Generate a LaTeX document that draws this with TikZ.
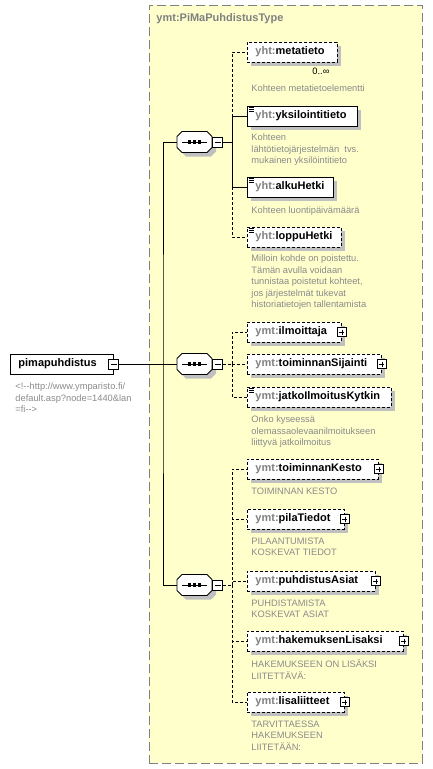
\documentclass[tikz,border=0pt]{standalone}
\usepackage{fontspec}
\setmainfont{Liberation Sans}
\usepackage{tikz}
\usetikzlibrary{shadows,positioning}

\definecolor{typefill}{HTML}{FFFFCC}
\definecolor{typeline}{HTML}{808080}
\definecolor{pfx}{HTML}{808080}
\definecolor{desc}{HTML}{8A8A8A}
\definecolor{shadowgray}{HTML}{C0C0C0}

\newcommand{\ns}[1]{{\color{pfx}#1:}}

\tikzset{
  elem/.style={draw, fill=white, anchor=west, minimum height=20pt, inner xsep=8pt, inner ysep=0pt,
    text width=#1, align=left, font=\fontsize{11}{13}\selectfont\bfseries,
    general shadow={fill=shadowgray, shadow xshift=4pt, shadow yshift=-4pt}},
  opt/.style={dash pattern=on 3pt off 2pt},
  docicon/.style={path picture={\foreach \k in {1.5pt,3.3pt,5.1pt}
    \draw[solid, line width=0.7pt] ([xshift=2pt, yshift=-\k]path picture bounding box.north west) -- ++(5pt,0pt);}},
  plusbox/.style={draw, solid, fill=white, minimum size=9pt, inner sep=0pt,
    path picture={\draw[line width=0.7pt] ([xshift=2pt]path picture bounding box.west) -- ([xshift=-2pt]path picture bounding box.east)
      ([yshift=-2pt]path picture bounding box.north) -- ([yshift=2pt]path picture bounding box.south);}},
  minusbox/.style={draw, solid, fill=white, minimum size=10pt, inner sep=0pt,
    path picture={\draw[line width=0.7pt] ([xshift=2pt]path picture bounding box.west) -- ([xshift=-2pt]path picture bounding box.east);}},
  seqbox/.style={minimum width=35pt, minimum height=21pt, inner sep=0pt},
  note/.style={anchor=north west, inner sep=0pt, align=left, text=desc, font=\fontsize{9.3}{11.5}\selectfont}
}

\begin{document}
\begin{tikzpicture}[x=1pt, y=-1pt, line width=0.9pt]
\useasboundingbox (0,0) rectangle (432,769);

% Type
\node (type) [draw=typeline, fill=typefill, dash pattern=on 9pt off 4pt, anchor=north west,
  minimum width=273pt, minimum height=758pt, inner sep=0pt] at (149,5) {};
\node (type-name) [anchor=west, inner sep=0pt, text=pfx, font=\fontsize{11}{13}\selectfont\bfseries] at (156,19) {ymt:PiMaPuhdistusType};

% Root element
\node (pima) [draw, fill=white, anchor=west, minimum height=20pt, inner xsep=8pt, inner ysep=0pt,
  text width=87pt, align=left, font=\fontsize{11}{13}\selectfont\bfseries] at (10,364) {pimapuhdistus};
\node (pima-m) [minusbox] at (pima.east) {};
\node (pima-note) [note, below right=8pt and 5pt of pima.south west] {<!-{}-http://www.ymparisto.fi/\\default.asp?node=1440\&lan\\=fi-{}->};

% Compositors
\node (seq1) [seqbox] at (194.5,142) {};
\node (seq2) [seqbox] at (194.5,364) {};
\node (seq3) [seqbox] at (194.5,585) {};
\foreach \s in {seq1,seq2,seq3} {
  \begin{scope}[shift={(\s.center)}]
    \fill[shadowgray, shift={(4pt,-4pt)}] (-12.5,-10.5) -- (12.5,-10.5) -- (17.5,-5.5) -- (17.5,5.5)
      -- (12.5,10.5) -- (-12.5,10.5) -- (-17.5,5.5) -- (-17.5,-5.5) -- cycle;
    \draw[fill=white] (-12.5,-10.5) -- (12.5,-10.5) -- (17.5,-5.5) -- (17.5,5.5)
      -- (12.5,10.5) -- (-12.5,10.5) -- (-17.5,5.5) -- (-17.5,-5.5) -- cycle;
    \draw (-12.5,0) -- (12.5,0);
    \foreach \d in {-5,0,5}
      \fill (\d-1.6,-1.6) rectangle (\d+1.6,1.6);
  \end{scope}
}
\node (seq1-m) [minusbox, anchor=west] at (seq1.east) {};
\node (seq2-m) [minusbox, anchor=west] at (seq2.east) {};
\node (seq3-m) [minusbox, anchor=west] at (seq3.east) {};

% Sequence 1
\node (metatieto) [elem=74pt, opt] at (247,52) {\ns{yht}metatieto};
\node (metatieto-occ) [anchor=north east, inner sep=0pt, font=\fontsize{9.3}{11}\selectfont, below left=5pt and 8pt of metatieto.south east] {0..∞};
\node (metatieto-note) [note, below right=22pt and 4pt of metatieto.south west] {Kohteen metatietoelementti};

\node (yksilointitieto) [elem=94pt, docicon] at (247,116) {\ns{yht}yksilointitieto};
\node (yksilointitieto-note) [note, below right=7pt and 4pt of yksilointitieto.south west] {Kohteen\\lähtötietojärjestelmän\ \ tvs.\\mukainen yksilöintitieto};

\node (alkuHetki) [elem=70pt, docicon] at (247,187) {\ns{yht}alkuHetki};
\node (alkuHetki-note) [note, below right=9pt and 4pt of alkuHetki.south west] {Kohteen luontipäivämäärä};

\node (loppuHetki) [elem=78pt, opt, docicon] at (247,237) {\ns{yht}loppuHetki};
\node (loppuHetki-note) [note, below right=7pt and 4pt of loppuHetki.south west] {Milloin kohde on poistettu.\\Tämän avulla voidaan\\tunnistaa poistetut kohteet,\\jos järjestelmät tukevat\\historiatietojen tallentamista};

% Sequence 2
\node (ilmoittaja) [elem=78pt, opt] at (247,332) {\ns{ymt}ilmoittaja};
\node (ilmoittaja-p) [plusbox] at (ilmoittaja.east) {};

\node (toiminnanSijainti) [elem=118pt, opt] at (247,364) {\ns{ymt}toiminnanSijainti};
\node (toiminnanSijainti-p) [plusbox] at (toiminnanSijainti.east) {};

\node (jatkoIlmoitusKytkin) [elem=128pt, opt, docicon] at (247,397) {\ns{ymt}jatkoIlmoitusKytkin};
\node (jatkoIlmoitusKytkin-note) [note, below right=8pt and 4pt of jatkoIlmoitusKytkin.south west] {Onko kyseessä\\olemassaolevaanilmoitukseen\\liittyvä jatkoilmoitus};

% Sequence 3
\node (toiminnanKesto) [elem=115pt, opt] at (247,469) {\ns{ymt}toiminnanKesto};
\node (toiminnanKesto-p) [plusbox] at (toiminnanKesto.east) {};
\node (toiminnanKesto-note) [note, below right=8pt and 4pt of toiminnanKesto.south west] {TOIMINNAN KESTO};

\node (pilaTiedot) [elem=81pt, opt] at (247,519) {\ns{ymt}pilaTiedot};
\node (pilaTiedot-p) [plusbox] at (pilaTiedot.east) {};
\node (pilaTiedot-note) [note, below right=8pt and 4pt of pilaTiedot.south west] {PILAANTUMISTA\\KOSKEVAT TIEDOT};

\node (puhdistusAsiat) [elem=112pt, opt] at (247,581) {\ns{ymt}puhdistusAsiat};
\node (puhdistusAsiat-p) [plusbox] at (puhdistusAsiat.east) {};
\node (puhdistusAsiat-note) [note, below right=8pt and 4pt of puhdistusAsiat.south west] {PUHDISTAMISTA\\KOSKEVAT ASIAT};

\node (hakemuksenLisaksi) [elem=140pt, opt] at (247,641) {\ns{ymt}hakemuksenLisaksi};
\node (hakemuksenLisaksi-p) [plusbox] at (hakemuksenLisaksi.east) {};
\node (hakemuksenLisaksi-note) [note, below right=8pt and 4pt of hakemuksenLisaksi.south west] {HAKEMUKSEEN ON LISÄKSI\\LIITETTÄVÄ:};

\node (lisaliitteet) [elem=81pt, opt] at (247,702) {\ns{ymt}lisaliitteet};
\node (lisaliitteet-p) [plusbox] at (lisaliitteet.east) {};
\node (lisaliitteet-note) [note, below right=8pt and 4pt of lisaliitteet.south west] {TARVITTAESSA\\HAKEMUKSEEN\\LIITETÄÄN:};

% Connectors
\coordinate (trunk) at (163,364);
\coordinate (bus1) at (232,142);
\coordinate (bus2) at (232,364);
\coordinate (bus3) at (232,585);

\draw (pima-m.east) -- (seq2.west);
\draw (seq1.west) -| (trunk) |- (seq3.west);

\draw (seq1-m.east) -- (bus1);
\draw[opt] (bus1) |- (metatieto.west);
\draw (bus1) |- (yksilointitieto.west);
\draw (bus1) |- (alkuHetki.west);
\draw[opt] (bus1) |- (loppuHetki.west);

\draw[opt] (seq2-m.east) -- (bus2);
\draw[opt] (bus2) |- (ilmoittaja.west);
\draw[opt] (bus2) |- (toiminnanSijainti.west);
\draw[opt] (bus2) |- (jatkoIlmoitusKytkin.west);

\draw[opt] (seq3-m.east) -- (bus3);
\draw[opt] (bus3) |- (toiminnanKesto.west);
\draw[opt] (bus3) |- (pilaTiedot.west);
\draw[opt] (bus3) |- (puhdistusAsiat.west);
\draw[opt] (bus3) |- (hakemuksenLisaksi.west);
\draw[opt] (bus3) |- (lisaliitteet.west);
\end{tikzpicture}
\end{document}
